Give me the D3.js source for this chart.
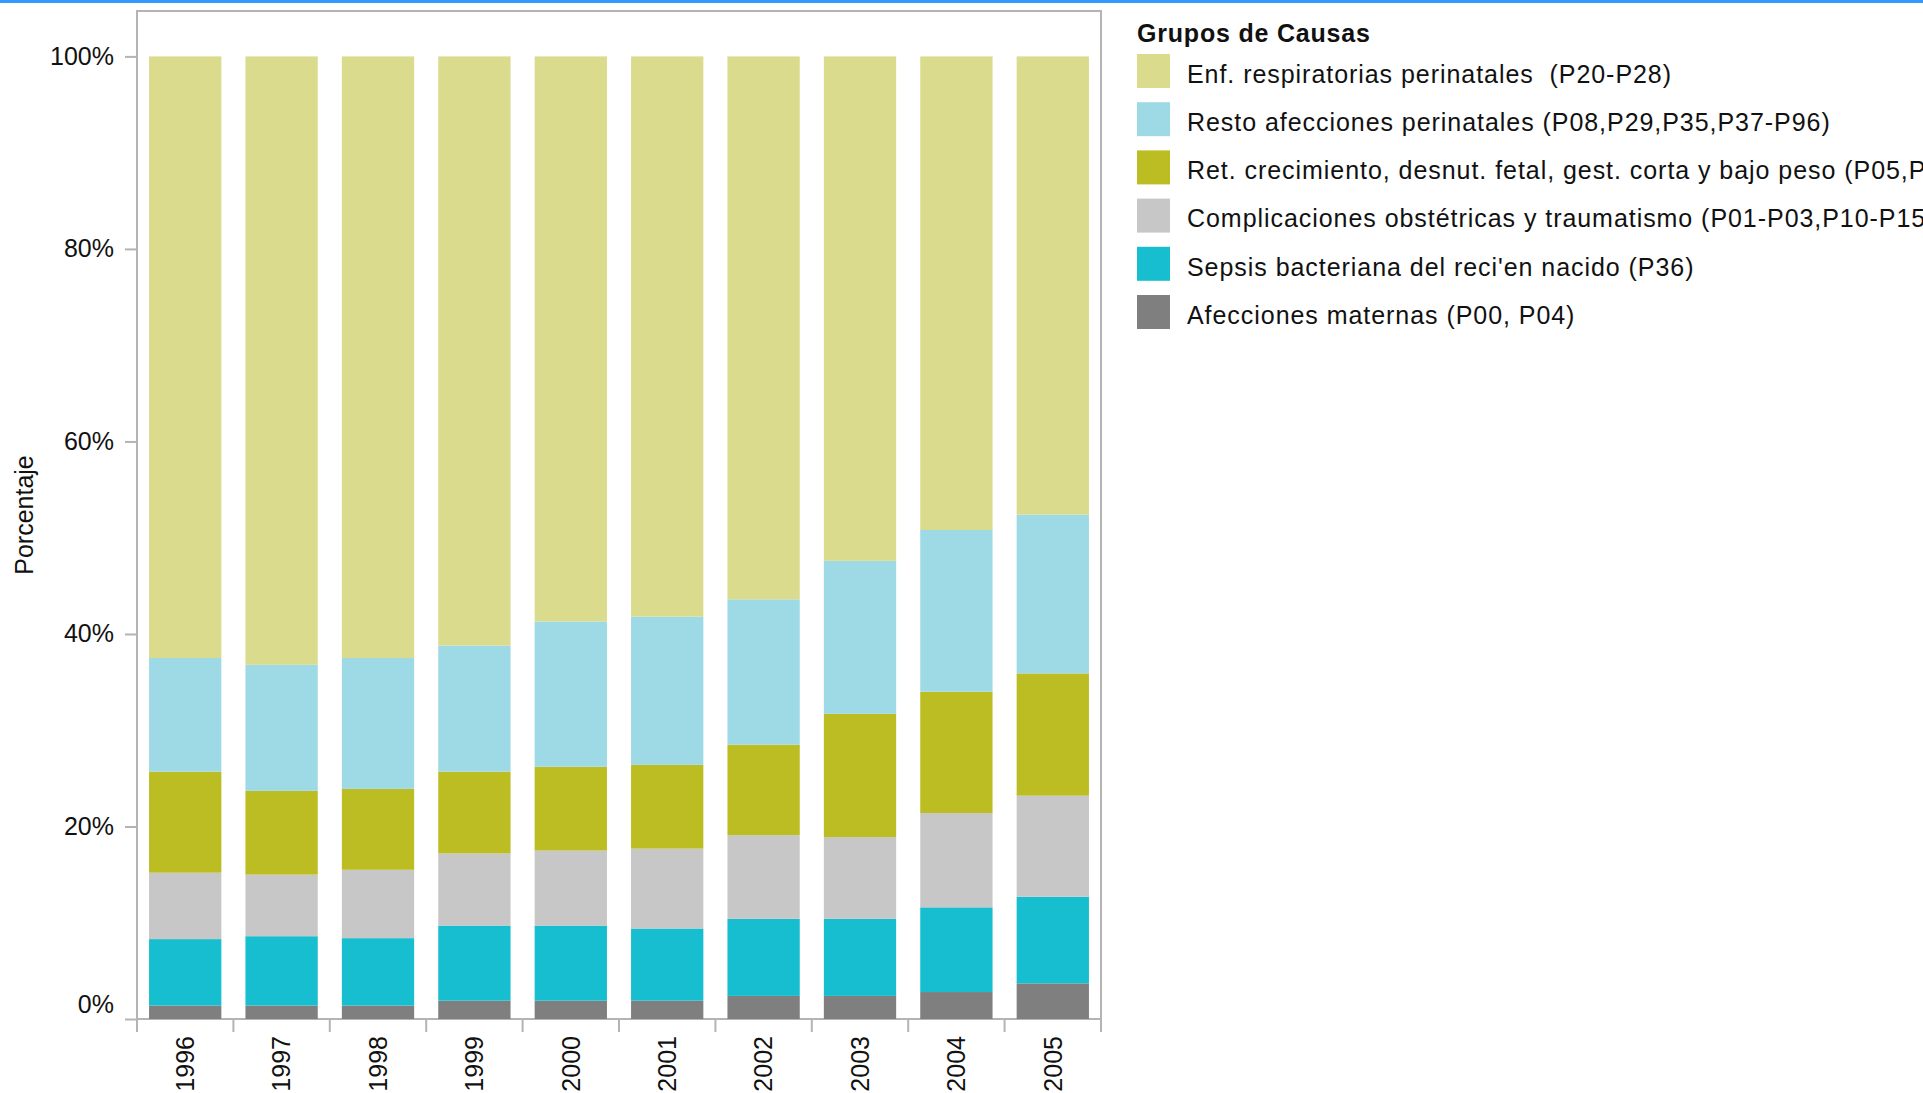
<!DOCTYPE html>
<html>
<head>
<meta charset="utf-8">
<script src="https://cdn.jsdelivr.net/npm/d3@7/dist/d3.min.js"></script>
<style>
    body { margin: 0; background: #fff; overflow: hidden; }
    text { font-family: "Liberation Sans", Arial, sans-serif; fill: #111; }
</style>
</head>
<body>
<div id="chart"></div>
<script>

// years on the x axis
var years = ["1996", "1997", "1998", "1999", "2000", "2001", "2002", "2003", "2004", "2005"];

// series names, legend order (top to bottom)
var causas = [
    "Enf. respiratorias perinatales  (P20-P28)",
    "Resto afecciones perinatales (P08,P29,P35,P37-P96)",
    "Ret. crecimiento, desnut. fetal, gest. corta y bajo peso (P05,P07)",
    "Complicaciones obstétricas y traumatismo (P01-P03,P10-P15)",
    "Sepsis bacteriana del reci'en nacido (P36)",
    "Afecciones maternas (P00, P04)"
];
var colores = ["#dbdb8d", "#9edae5", "#bcbd22", "#c7c7c7", "#17becf", "#7f7f7f"];

// percentages per year, one array per cause
var enfRespiratorias = [62.5, 63.2, 62.5, 61.2, 58.7, 58.2, 56.4, 52.4, 49.2, 47.6];
var restoAfecciones  = [11.8, 13.1, 13.6, 13.1, 15.1, 15.4, 15.1, 15.9, 16.8, 16.5];
var retCrecimiento   = [10.5, 8.7, 8.4, 8.5, 8.7, 8.7, 9.4, 12.8, 12.6, 12.7];
var complicaciones   = [6.9, 6.4, 7.1, 7.5, 7.8, 8.3, 8.7, 8.5, 9.8, 10.5];
var sepsis           = [6.9, 7.2, 7.0, 7.8, 7.8, 7.5, 8.0, 8.0, 8.8, 9.0];
var maternas         = [1.4, 1.4, 1.4, 1.9, 1.9, 1.9, 2.4, 2.4, 2.8, 3.7];

// y ticks
var yTicks = [0, 20, 40, 60, 80, 100];

var series = [enfRespiratorias, restoAfecciones, retCrecimiento, complicaciones, sepsis, maternas];

// build table rows for d3.stack
var data = years.map(function(y, i) {
    var row = {year: y};
    causas.forEach(function(c, k) { row[c] = series[k][i]; });
    return row;
});

// stack from bottom (maternas) to top (enf. respiratorias)
var stackKeys = causas.slice().reverse();

var width = 1923, height = 1093;
var plot = {left: 137, right: 1101, top: 11, bottom: 1019};

var svg = d3.select("#chart")
    .append("svg")
    .attr("width", width)
    .attr("height", height);

// blue strip at the very top
svg.append("rect")
    .attr("x", 0).attr("y", 0)
    .attr("width", width).attr("height", 3)
    .attr("fill", "#3399ff");

var x = d3.scaleBand()
    .domain(years)
    .range([plot.left, plot.right])
    .paddingInner(0.25)
    .paddingOuter(0.125);

var y = d3.scaleLinear()
    .domain([0, 100])
    .range([plot.bottom, 56.4]);

var color = d3.scaleOrdinal()
    .domain(causas)
    .range(colores);

// plot frame
svg.append("rect")
    .attr("x", plot.left)
    .attr("y", plot.top)
    .attr("width", plot.right - plot.left)
    .attr("height", plot.bottom - plot.top)
    .attr("fill", "none")
    .attr("stroke", "#b4b4b4")
    .attr("stroke-width", 2);

// stacked bars
var layers = svg.selectAll("g.layer")
    .data(d3.stack().keys(stackKeys)(data))
    .enter().append("g")
    .attr("class", "layer")
    .attr("fill", function(d) { return color(d.key); });

layers.selectAll("rect")
    .data(function(d) { return d; })
    .enter().append("rect")
    .attr("x", function(d) { return x(d.data.year); })
    .attr("y", function(d) { return y(d[1]); })
    .attr("width", x.bandwidth())
    .attr("height", function(d) { return y(d[0]) - y(d[1]); });

// Y axis
var yAxis = svg.append("g")
    .attr("transform", "translate(" + plot.left + ",0)")
    .call(d3.axisLeft(y).tickValues(yTicks).tickSize(12).tickPadding(11)
        .tickFormat(function(d) { return d + "%"; }));
yAxis.select(".domain").remove();
yAxis.selectAll(".tick line").attr("stroke", "#b4b4b4").attr("stroke-width", 2);
yAxis.selectAll(".tick text")
    .style("font-size", "25px")
    .style("font-family", "'Liberation Sans', Arial, sans-serif")
    .attr("fill", "#111")
    .attr("dy", function(d) { return d === 0 ? "-0.25em" : "0.32em"; });

// y label
svg.append("text")
    .attr("transform", "translate(" + 33 + "," + 515 + ") rotate(-90)")
    .style("text-anchor", "middle")
    .style("font-size", "25px")
    .text("Porcentaje");

// X axis: ticks between categories
var boundaries = years.map(function(d) { return x(d) - x.step() * x.paddingOuter(); });
boundaries.push(plot.right);
svg.selectAll("line.xtick")
    .data(boundaries)
    .enter().append("line")
    .attr("class", "xtick")
    .attr("x1", function(d) { return d; })
    .attr("x2", function(d) { return d; })
    .attr("y1", plot.bottom)
    .attr("y2", plot.bottom + 13)
    .attr("stroke", "#b4b4b4")
    .attr("stroke-width", 2);

svg.selectAll("text.year")
    .data(years)
    .enter().append("text")
    .attr("class", "year")
    .attr("transform", function(d) {
        return "translate(" + (x(d) + x.bandwidth() / 2) + "," + 1036 + ") rotate(-90)";
    })
    .attr("dy", "0.35em")
    .style("text-anchor", "end")
    .style("font-size", "25px")
    .text(function(d) { return d; });

// legend
svg.append("text")
    .attr("x", 1137)
    .attr("y", 42)
    .style("font-size", "25px")
    .style("font-weight", "bold")
    .style("letter-spacing", "0.8px")
    .text("Grupos de Causas");

var legend = svg.selectAll(".legend")
    .data(causas)
    .enter().append("g")
    .attr("class", "legend")
    .attr("transform", function(d, i) { return "translate(1137," + (54 + i * 48.2) + ")"; });

legend.append("rect")
    .attr("width", 33)
    .attr("height", 34)
    .style("fill", color);

legend.append("text")
    .attr("x", 50)
    .attr("y", 20)
    .attr("dy", "0.35em")
    .style("font-size", "25px")
    .style("letter-spacing", "0.95px")
    .style("white-space", "pre")
    .text(function(d) { return d; });

</script>
</body>
</html>
